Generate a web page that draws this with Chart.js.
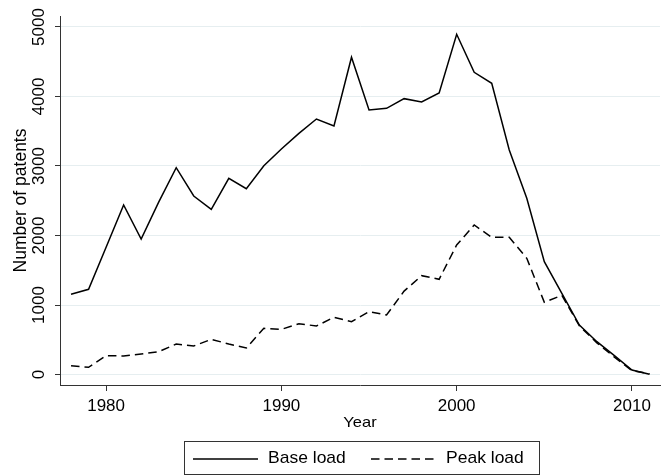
<!DOCTYPE html>
<html>
<head>
<meta charset="utf-8">
<script src="https://cdn.jsdelivr.net/npm/chart.js@4.4.1/dist/chart.umd.min.js"></script>
<style>
  html, body { margin: 0; padding: 0; background: #fff; }
  canvas { display: block; }
</style>
</head>
<body>
<canvas id="chart" width="667" height="476"></canvas>
<script>
// values
const years = [1978, 1979, 1980, 1981, 1982, 1983, 1984, 1985, 1986, 1987, 1988, 1989,
  1990, 1991, 1992, 1993, 1994, 1995, 1996, 1997, 1998, 1999, 2000, 2001, 2002, 2003,
  2004, 2005, 2006, 2007, 2008, 2009, 2010, 2011];
const baseLoad = [1155, 1226, 1830, 2439, 1950, 2480, 2975, 2568, 2377, 2823, 2673, 3004,
  3245, 3470, 3676, 3576, 4564, 3806, 3830, 3969, 3921, 4050, 4895, 4348, 4190, 3230,
  2535, 1623, 1168, 712, 472, 271, 65, 3];
const peakLoad = [127, 103, 271, 266, 295, 328, 439, 410, 506, 439, 381, 664,
  650, 731, 698, 823, 760, 904, 856, 1200, 1422, 1370, 1863, 2151, 1974, 1974,
  1672, 1039, 1140, 700, 455, 250, 55, 10];
const xTicks = [1980, 1990, 2000, 2010];
const yTicks = [0, 1000, 2000, 3000, 4000, 5000];
const seriesNames = ['Base load', 'Peak load'];
const xTitle = 'Year';
const yTitle = 'Number of patents';

const toPoints = vals => years.map((y, i) => ({ x: y, y: vals[i] }));

const FONT = '"Liberation Sans", Arial, sans-serif';

// horizontal text, a little flattened like the Stata export
function hText(ctx, txt, x, y, size, align) {
  ctx.save();
  ctx.font = size + 'px ' + FONT;
  ctx.fillStyle = '#000';
  ctx.textBaseline = 'middle';
  ctx.textAlign = align;
  ctx.translate(x, y);
  ctx.scale(1, 0.92);
  ctx.fillText(txt, 0, 0);
  ctx.restore();
}
function vText(ctx, txt, x, y, size) {
  ctx.save();
  ctx.font = size + 'px ' + FONT;
  ctx.fillStyle = '#000';
  ctx.textBaseline = 'middle';
  ctx.textAlign = 'center';
  ctx.translate(x, y);
  ctx.rotate(-Math.PI / 2);
  ctx.fillText(txt, 0, 0);
  ctx.restore();
}

const textPlugin = {
  id: 'stataText',
  afterDraw(chart) {
    const ctx = chart.ctx;
    const xs = chart.scales.x, ys = chart.scales.y;
    const area = chart.chartArea;

    yTicks.forEach(v => vText(ctx, String(v), 39, ys.getPixelForValue(v), 17));
    vText(ctx, yTitle, 21, (area.top + area.bottom) / 2, 17.5);

    xTicks.forEach(v => hText(ctx, String(v), xs.getPixelForValue(v), 407, 17, 'center'));
    hText(ctx, xTitle, (area.left + area.right) / 2, 423, 16.5, 'center');

    // legend box
    ctx.save();
    ctx.strokeStyle = '#333';
    ctx.lineWidth = 1;
    ctx.strokeRect(184.5, 441.5, 355, 33);
    const ly = 459;
    const starts = [193, 371];
    chart.data.datasets.forEach((ds, i) => {
      const x0 = starts[i];
      ctx.beginPath();
      ctx.setLineDash(ds.borderDash || []);
      ctx.lineWidth = ds.borderWidth;
      ctx.strokeStyle = ds.borderColor;
      ctx.moveTo(x0, ly);
      ctx.lineTo(x0 + 65, ly);
      ctx.stroke();
      ctx.setLineDash([]);
      hText(ctx, ds.label, x0 + 75, ly, 17.5, 'left');
    });
    ctx.restore();
  }
};

new Chart(document.getElementById('chart'), {
  type: 'line',
  data: {
    datasets: [
      {
        label: seriesNames[0],
        data: toPoints(baseLoad),
        borderColor: '#000',
        borderWidth: 1.5,
        pointRadius: 0,
        tension: 0,
        fill: false
      },
      {
        label: seriesNames[1],
        data: toPoints(peakLoad),
        borderColor: '#000',
        borderWidth: 1.5,
        borderDash: [8.5, 5],
        pointRadius: 0,
        tension: 0,
        fill: false
      }
    ]
  },
  options: {
    responsive: false,
    animation: false,
    layout: { padding: { top: 16, right: 7, left: 0, bottom: 0 } },
    plugins: {
      legend: { display: false },
      tooltip: { enabled: false }
    },
    scales: {
      x: {
        type: 'linear',
        min: 1977.37,
        max: 2011.6,
        afterBuildTicks: s => { s.ticks = xTicks.map(v => ({ value: v })); },
        afterFit: s => { s.height = 91; },
        ticks: { display: false },
        grid: { drawOnChartArea: false, tickLength: 6, tickColor: '#333' },
        border: { color: '#333', width: 1 }
      },
      y: {
        type: 'linear',
        min: -151,
        max: 5158,
        afterBuildTicks: s => { s.ticks = yTicks.map(v => ({ value: v })); },
        afterFit: s => { s.width = 60; },
        ticks: { display: false },
        grid: { color: '#e6eef0', lineWidth: 1, tickLength: 5, tickColor: '#333' },
        border: { color: '#333', width: 1 }
      }
    }
  },
  plugins: [textPlugin]
});
</script>
</body>
</html>
